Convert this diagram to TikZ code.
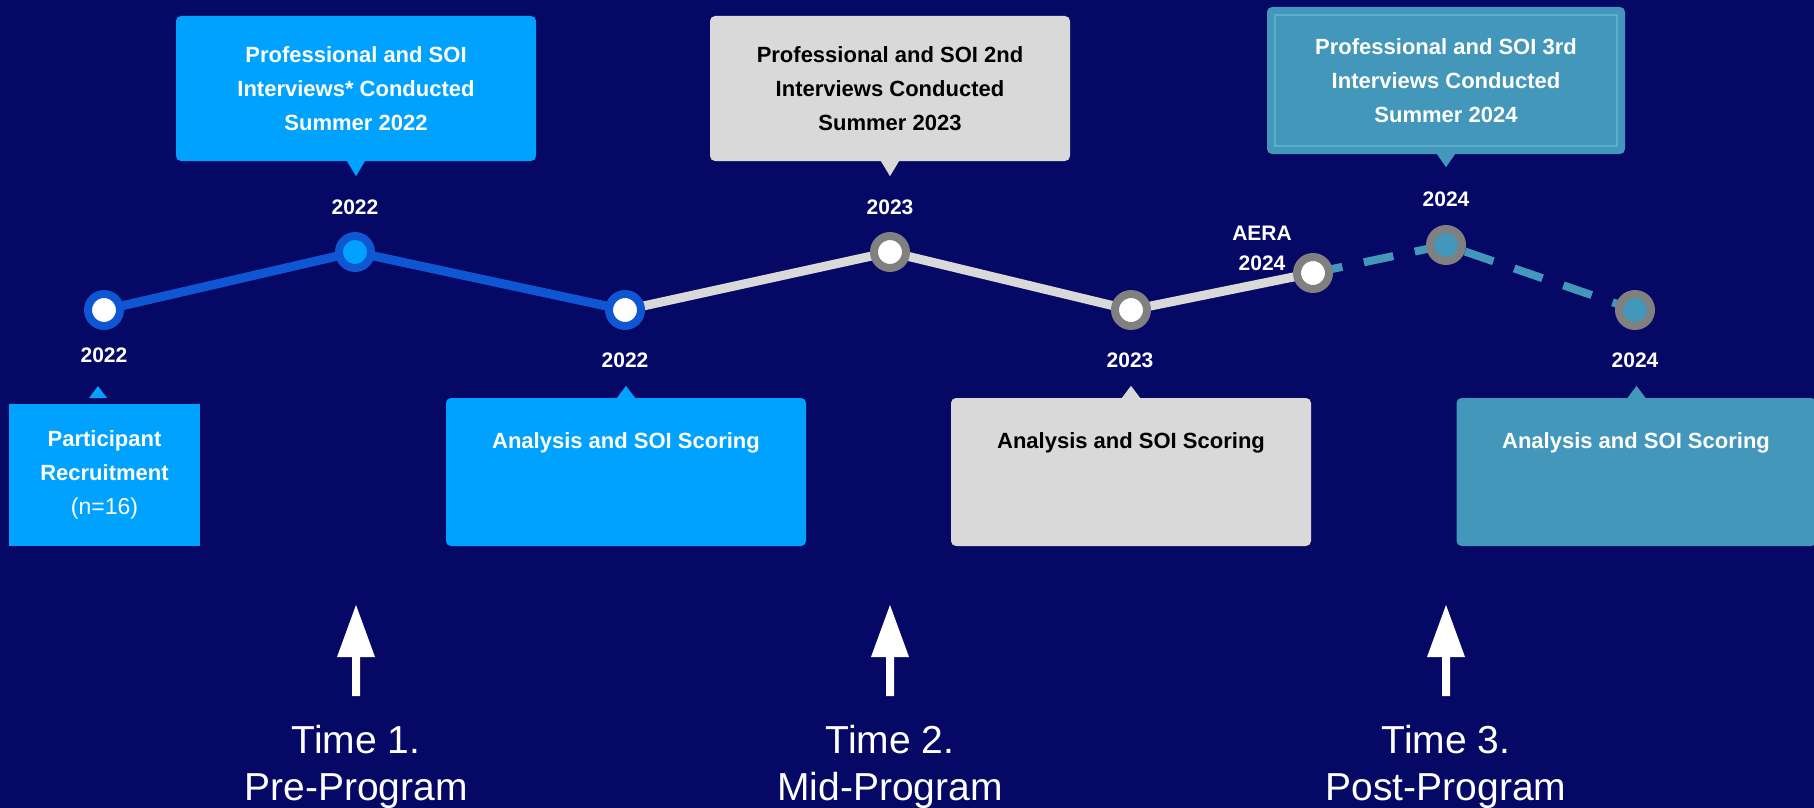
\documentclass[tikz,border=0pt]{standalone}
\usepackage{fontspec}
\setmainfont{Liberation Sans}
\definecolor{bg}{RGB}{6,8,102}
\definecolor{brightblue}{RGB}{0,162,255}
\definecolor{lineblue}{RGB}{14,86,210}
\definecolor{lgray}{RGB}{217,217,217}
\definecolor{ringgray}{RGB}{128,128,128}
\definecolor{tealc}{RGB}{66,151,187}
\definecolor{tealb}{RGB}{90,174,206}
\pgfdeclarelayer{back}
\pgfdeclarelayer{mid}
\pgfsetlayers{back,mid,main}
\begin{document}
\begin{tikzpicture}[x=1pt,y=-1pt,
  topbox/.style={rounded corners=5pt, minimum width=360pt, minimum height=145pt, inner sep=0pt, align=center, font=\fontsize{22}{34}\selectfont\bfseries},
  lowbox/.style={rounded corners=5pt, minimum width=360pt, minimum height=148pt, inner sep=0pt},
  boxtext/.style={anchor=base, font=\fontsize{22}{26}\selectfont\bfseries, inner sep=0pt},
  year/.style={anchor=base, text=white, font=\fontsize{21}{25}\selectfont\bfseries, inner sep=0pt},
  dot/.style={circle, minimum size=32pt, inner sep=0pt, line width=8pt},
  timetext/.style={anchor=base, text=white, font=\fontsize{39}{47}\selectfont, inner sep=0pt},
  conn/.style={line width=9pt},
  dashconn/.style={line width=8pt, tealc, dash pattern=on 30pt off 22pt}
]
\begin{pgfonlayer}{back}
\fill[bg] (0,0) rectangle (1814,808);
\end{pgfonlayer}
\useasboundingbox (0,0) rectangle (1814,808);

% top boxes
\node[topbox, fill=brightblue, text=white] (b1) at (356,88.5) {Professional and SOI\\Interviews* Conducted\\Summer 2022};
\fill[brightblue] (b1.south) ++(-9,0) -- ++(9,15) -- ++(9,-15) -- cycle;
\node[topbox, fill=lgray, text=black] (b2) at (890,88.5) {Professional and SOI 2nd\\Interviews Conducted\\Summer 2023};
\fill[lgray] (b2.south) ++(-9,0) -- ++(9,15) -- ++(9,-15) -- cycle;
\node[topbox, fill=tealc, text=white, minimum width=358pt, minimum height=147pt] (b3) at (1446,80.5) {Professional and SOI 3rd\\Interviews Conducted\\Summer 2024};
\draw[tealb, line width=1.5pt] (1275,15) rectangle (1617,146);
\fill[tealc] (b3.south) ++(-9,0) -- ++(9,13) -- ++(9,-13) -- cycle;

% timeline nodes
\node[dot, draw=lineblue, fill=white] (n1) at (104,310) {};
\node[dot, draw=lineblue, fill=brightblue] (n2) at (355,252) {};
\node[dot, draw=lineblue, fill=white] (n3) at (625,310) {};
\node[dot, draw=ringgray, fill=white] (n4) at (890,252) {};
\node[dot, draw=ringgray, fill=white] (n5) at (1131,310) {};
\node[dot, draw=ringgray, fill=white] (n6) at (1313,273) {};
\node[dot, draw=ringgray, fill=tealc] (n7) at (1446,245) {};
\node[dot, draw=ringgray, fill=tealc] (n8) at (1635,310) {};

\begin{pgfonlayer}{mid}
\draw[conn, lineblue] (n1.center) -- (n2.center) -- (n3.center);
\draw[conn, lgray] (n3.center) -- (n4.center) -- (n5.center) -- (n6.center);
\draw[dashconn] (n6.center) -- (n7.center) -- (n8.center);
\end{pgfonlayer}

% year labels
\node[year] (y1) at (104,362) {2022};
\node[year] (y2) at (355,214) {2022};
\node[year] (y3) at (625,367) {2022};
\node[year] (y4) at (890,214) {2023};
\node[year] (y5) at (1130,367) {2023};
\node[year] (y6a) at (1262,240) {AERA};
\node[year] (y6b) at (1262,270) {2024};
\node[year] (y7) at (1446,206) {2024};
\node[year] (y8) at (1635,367) {2024};

% lower boxes
\node[minimum width=191pt, minimum height=142pt, inner sep=0pt, fill=brightblue, text=white, align=center, font=\fontsize{22}{34}\selectfont] (pr) at (104.5,475) {\bfseries Participant\\\bfseries Recruitment\\\fontsize{23}{34}\selectfont(n=16)};
\fill[brightblue] (98,386) -- (107,398) -- (89,398) -- cycle;

\node[lowbox, fill=brightblue] (a1) at (626,472) {};
\fill[brightblue] (a1.north) ++(-9,0) -- ++(9,-12) -- ++(9,12) -- cycle;
\node[boxtext, text=white] (a1t) at (626,448) {Analysis and SOI Scoring};

\node[lowbox, fill=lgray] (a2) at (1131,472) {};
\fill[lgray] (a2.north) ++(-9,0) -- ++(9,-12) -- ++(9,12) -- cycle;
\node[boxtext, text=black] (a2t) at (1131,448) {Analysis and SOI Scoring};

\node[lowbox, fill=tealc] (a3) at (1636.5,472) {};
\fill[tealc] (a3.north) ++(-9,0) -- ++(9,-12) -- ++(9,12) -- cycle;
\node[boxtext, text=white] (a3t) at (1636,448) {Analysis and SOI Scoring};

% arrows
\foreach \x in {356,890,1446}{
  \fill[white] (\x-4,696) -- (\x-4,657) -- (\x-19,657) -- (\x,605) -- (\x+19,657) -- (\x+4,657) -- (\x+4,696) -- cycle;
}

% time labels
\node[timetext] (t1a) at (356,753) {Time 1.};
\node[timetext] (t1b) at (356,800) {Pre-Program};
\node[timetext] (t2a) at (890,753) {Time 2.};
\node[timetext] (t2b) at (890,800) {Mid-Program};
\node[timetext] (t3a) at (1446,753) {Time 3.};
\node[timetext] (t3b) at (1446,800) {Post-Program};
\end{tikzpicture}
\end{document}
